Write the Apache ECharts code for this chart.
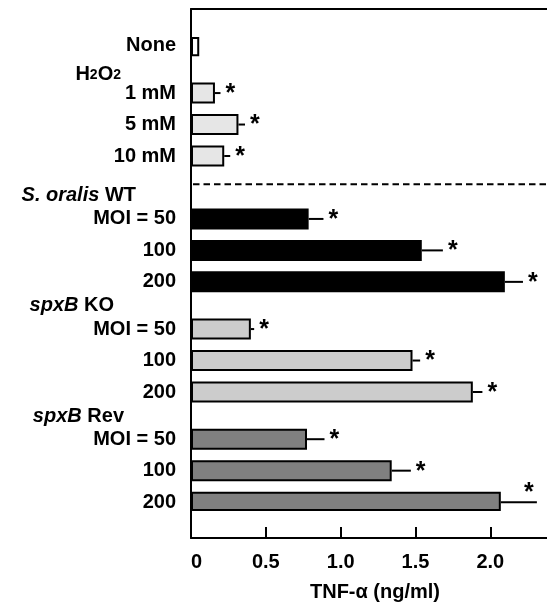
<!DOCTYPE html>
<html><head><meta charset="utf-8">
<script src="https://cdn.jsdelivr.net/npm/echarts@6/dist/echarts.min.js"></script>
<style>html,body{margin:0;padding:0;background:#fff}#c{width:547px;height:607px}</style>
</head><body><div id="c"></div>
<script>
// ---- data (half-row slots; "" = spacer slot) ----
const categories = ["None","","","1 mM","","5 mM","","10 mM","","","","MOI = 50","","100","","200","","","MOI = 50","","100","","200","","","MOI = 50","","100","","200"];
const groups     = ["None","","","H2O2","","H2O2","","H2O2","","","","WT","","WT","","WT","","","KO","","KO","","KO","","","Rev","","Rev","","Rev"];
const groupTitles = [null,null,null,["","H2O2"],null,null,null,null,null,null,null,["S. oralis"," WT"],null,null,null,null,null,null,["spxB"," KO"],null,null,null,null,null,null,["spxB"," Rev"],null,null,null,null];
const tnfMean = [0.055,null,null,0.16,null,0.317,null,0.222,null,null,null,0.786,null,1.542,null,2.097,null,null,0.40,null,1.48,null,1.883,null,null,0.775,null,1.341,null,2.07];
const tnfSem  = [0,null,null,0.037,null,0.044,null,0.04,null,null,null,0.099,null,0.141,null,0.121,null,null,0.022,null,0.051,null,0.064,null,null,0.117,null,0.128,null,0.241];
const signif  = ["",null,null,"*",null,"*",null,"*",null,null,null,"*",null,"*",null,"*",null,null,"*",null,"*",null,"*",null,null,"*",null,"*",null,"*"];
const xTickLabels = ["0","0.5","1.0","1.5","2.0"];
const xAxisTitle = "TNF-\u03b1 (ng/ml)";
const separatorAfterSlot = 8.8; // dashed separator between H2O2 and bacteria groups

// ---- styles / layout ----
const FONT = "'Liberation Sans', Arial, Helvetica, sans-serif";
const groupFill = {None:'#ffffff', H2O2:'#e6e6e6', WT:'#000000', KO:'#cccccc', Rev:'#808080'};
const headerLayout = {3:{lh:15,pad:55}, 11:{lh:24,pad:40}, 18:{lh:26,pad:62}, 25:{lh:23,pad:52}};
const XMAX = 360/151.35;

const rich = { n:{fontFamily:FONT,fontWeight:'bold',fontSize:20,lineHeight:22,color:'#000'} };
Object.keys(headerLayout).forEach(k=>{
  const L = headerLayout[k];
  rich['i'+k] = {fontFamily:FONT,fontWeight:'bold',fontStyle:'italic',fontSize:20,lineHeight:L.lh,color:'#000'};
  rich['r'+k] = {fontFamily:FONT,fontWeight:'bold',fontSize:20,lineHeight:L.lh,color:'#000'};
  rich['b'+k] = {fontFamily:FONT,fontWeight:'bold',fontSize:14,lineHeight:9,verticalAlign:'bottom',color:'#000'};
  rich['p'+k] = {fontFamily:FONT,fontSize:20,lineHeight:L.lh,width:L.pad};
  rich['s'+k] = {fontFamily:FONT,fontSize:20,lineHeight:L.lh};
});
function headerRich(k, italic, roman){
  let s = '';
  if (italic) s += '{i'+k+'|'+italic+'}';
  roman.split(/(\d+)/).forEach((part,j)=>{ if(!part) return; s += (j%2 ? '{b'+k+'|'+part+'}' : '{r'+k+'|'+part+'}'); });
  s += '{p'+k+'| }';
  return s;
}

const barData = tnfMean.map((v,i)=> v==null ? '-' : {value:v, itemStyle:{color:groupFill[groups[i]]}});
const errData = [];
tnfMean.forEach((v,i)=>{ if(v!=null && (tnfSem[i]>0 || signif[i])) errData.push([v, i, tnfSem[i], signif[i]]); });

const chart = echarts.init(document.getElementById('c'), null, {renderer:'canvas'});
chart.setOption({
  animation:false,
  backgroundColor:'#fff',
  grid:[
    {left:191, top:9, width:360, height:537, containLabel:false},
    {left:191, top:38, width:360, height:472, containLabel:false}
  ],
  xAxis:[
    {gridIndex:0, type:'value', min:0, max:XMAX, interval:0.5, position:'bottom',
     axisLine:{show:true, lineStyle:{color:'#000', width:2}},
     axisTick:{show:true, inside:true, length:11, lineStyle:{color:'#000', width:2}},
     splitLine:{show:false},
     axisLabel:{show:true, margin:14, color:'#000', fontFamily:FONT, fontWeight:'bold', fontSize:20,
       showMaxLabel:false, alignMinLabel:'left',
       formatter:(v)=>{ const i=Math.round(v/0.5); return Math.abs(v-i*0.5)<1e-6 && xTickLabels[i]!==undefined ? xTickLabels[i] : ''; }},
     name:xAxisTitle, nameLocation:'middle', nameGap:44,
     nameTextStyle:{color:'#000', fontFamily:FONT, fontWeight:'bold', fontSize:20, padding:[0,0,0,12]}},
    {gridIndex:0, type:'value', min:0, max:XMAX, position:'top',
     axisLine:{show:true, lineStyle:{color:'#000', width:2}}, axisTick:{show:false}, axisLabel:{show:false}, splitLine:{show:false}},
    {gridIndex:1, type:'value', min:0, max:XMAX, show:false}
  ],
  yAxis:[
    {gridIndex:0, type:'value', min:0, max:1, position:'left',
     axisLine:{show:true, lineStyle:{color:'#000', width:2}}, axisTick:{show:false}, axisLabel:{show:false}, splitLine:{show:false}},
    {gridIndex:1, type:'category', inverse:true, data:categories,
     axisLine:{show:false}, axisTick:{show:false}, splitLine:{show:false},
     axisLabel:{show:true, interval:0, margin:15, color:'#000', fontFamily:FONT, fontWeight:'bold', fontSize:20,
       rich:rich,
       formatter:(value, index)=>{
         if(!value) return '';
         const t = groupTitles[index];
         if(t){ return headerRich(index, t[0], t[1]) + '\n{n|' + value + '}\n{s'+index+'| }'; }
         return '{n|' + value + '}';
       }}}
  ],
  series:[
    {type:'bar', xAxisIndex:2, yAxisIndex:1, data:barData, barWidth:21,
     itemStyle:{borderColor:'#000', borderWidth:2}, silent:true},
    {type:'custom', xAxisIndex:2, yAxisIndex:1, data:errData, clip:false, silent:true,
     encode:{x:0, y:1},
     renderItem:(params, api)=>{
       const mean = api.value(0), idx = api.value(1), sem = api.value(2);
       const star = errData[params.dataIndex][3];
       const p0 = api.coord([mean, idx]);
       const p1 = api.coord([mean+sem, idx]);
       const children = [];
       if (sem>0) children.push({type:'line', shape:{x1:p0[0], y1:p0[1], x2:p1[0], y2:p1[1]}, style:{stroke:'#000', lineWidth:2}});
       if (star){
         let sx = p1[0]+5, sy = p0[1]+1, align='left';
         if (sx+12 > api.getWidth()){ sx = p1[0]-8; sy = p0[1]-9; align='center'; }
         children.push({type:'text', style:{text:star, x:sx, y:sy, align:align, verticalAlign:'middle',
           font:'bold 25px '+FONT, fill:'#000'}});
       }
       return {type:'group', children};
     }},
    {type:'custom', xAxisIndex:2, yAxisIndex:1, data:[[0, Math.floor(separatorAfterSlot)]], clip:false, silent:true,
     encode:{x:0, y:1},
     renderItem:(params, api)=>{
       const base = Math.floor(separatorAfterSlot), frac = separatorAfterSlot - base;
       const a = api.coord([0, base]), b = api.coord([0, base+1]);
       const y = a[1] + (b[1]-a[1])*frac;
       const cs = params.coordSys;
       return {type:'line', shape:{x1:cs.x+2, y1:y, x2:cs.x+cs.width, y2:y}, style:{stroke:'#000', lineWidth:2, lineDash:[6.5,4]}};
     }}
  ]
});
</script>
</body></html>
